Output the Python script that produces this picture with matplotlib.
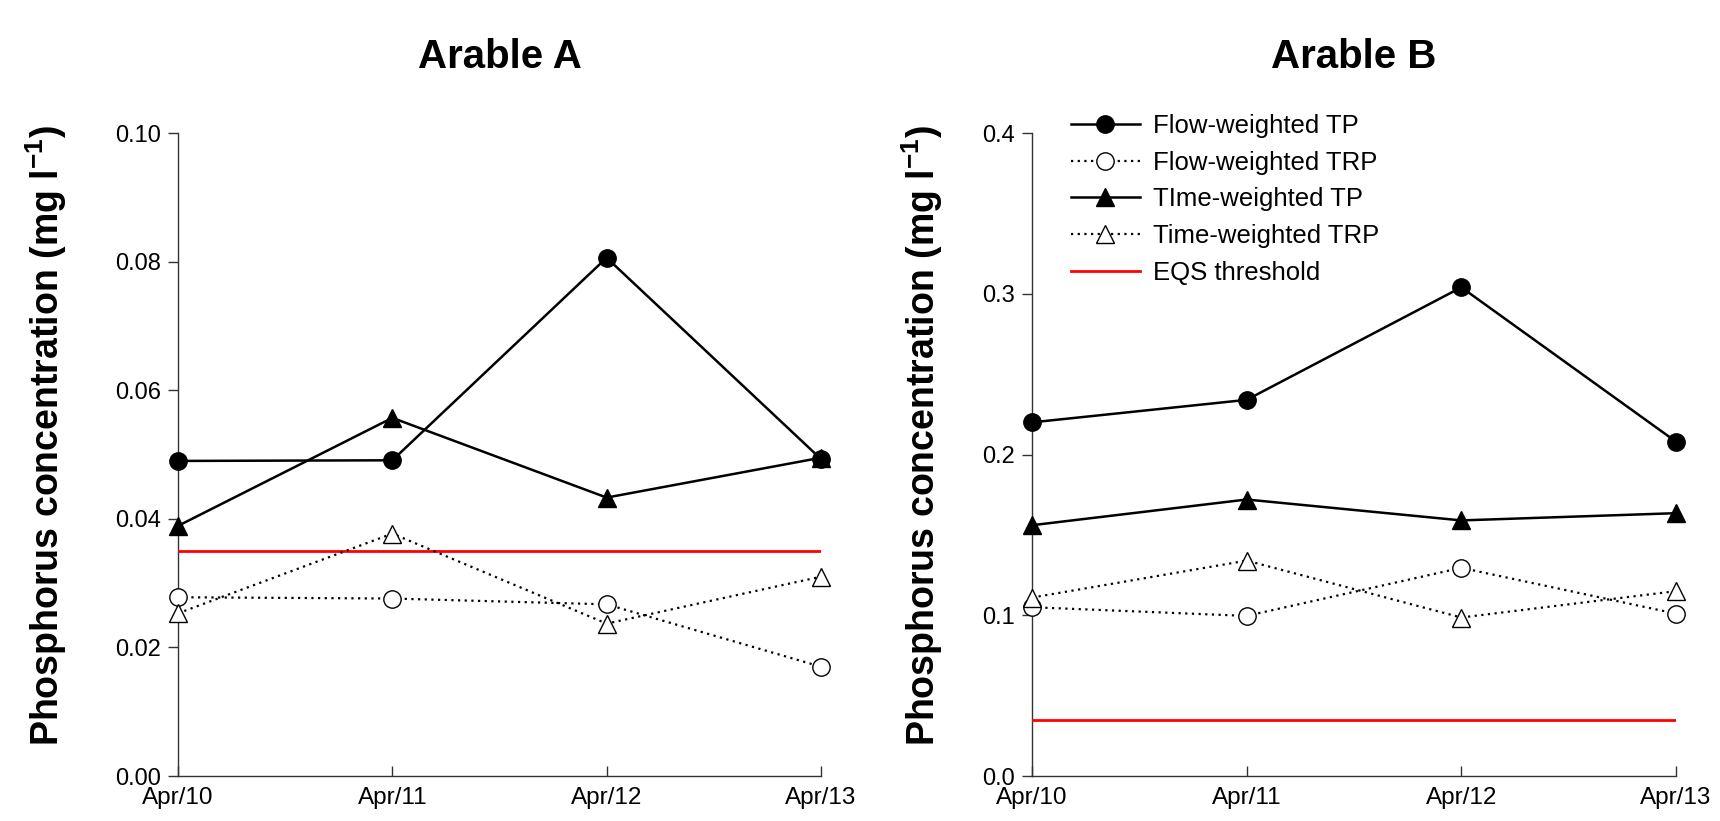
import matplotlib.pyplot as plt

plt.rcParams["font.family"] = ["Liberation Sans", "DejaVu Sans"]
plt.rcParams["mathtext.fontset"] = "custom"
plt.rcParams["mathtext.rm"] = "Liberation Sans"
plt.rcParams["mathtext.bf"] = "Liberation Sans:bold"

dates = ["Apr/10", "Apr/11", "Apr/12", "Apr/13"]
eqs = 0.035

# Arable A
a_flow_tp = [0.0490, 0.0491, 0.0806, 0.0493]
a_flow_trp = [0.0278, 0.0276, 0.0267, 0.0170]
a_time_tp = [0.0389, 0.0557, 0.0433, 0.0495]
a_time_trp = [0.0253, 0.0377, 0.0237, 0.0310]

# Arable B
b_flow_tp = [0.220, 0.234, 0.304, 0.208]
b_flow_trp = [0.105, 0.0996, 0.1295, 0.101]
b_time_tp = [0.156, 0.172, 0.159, 0.1635]
b_time_trp = [0.111, 0.134, 0.0986, 0.115]

a_yticks = [0.00, 0.02, 0.04, 0.06, 0.08, 0.10]
b_yticks = [0.0, 0.1, 0.2, 0.3, 0.4]

fig = plt.figure(figsize=(17.2, 8.21), dpi=100)
ax_a = fig.add_axes([0.1035, 0.0548, 0.3738, 0.7832])
ax_b = fig.add_axes([0.6000, 0.0548, 0.3744, 0.7832])

dot = (0, (1, 2.0))


def draw(ax, flow_tp, flow_trp, time_tp, time_trp, yticks, fmt, title):
    x = list(range(len(dates)))
    ax.plot(x, flow_tp, "-o", color="black", lw=1.8, ms=12.5,
            clip_on=False, zorder=5, label="Flow-weighted TP")
    ax.plot(x, flow_trp, linestyle=dot, marker="o", color="black", lw=1.6,
            ms=12.5, mfc="white", mec="black", mew=1.0,
            clip_on=False, zorder=4, label="Flow-weighted TRP")
    ax.plot(x, time_tp, "-^", color="black", lw=1.8, ms=12.5,
            clip_on=False, zorder=5, label="TIme-weighted TP")
    ax.plot(x, time_trp, linestyle=dot, marker="^", color="black", lw=1.6,
            ms=12.5, mfc="white", mec="black", mew=1.0,
            clip_on=False, zorder=4, label="Time-weighted TRP")
    ax.plot(x, [eqs] * len(x), color="red", lw=2.0, zorder=3,
            label="EQS threshold")

    ax.set_xlim(x[0], x[-1])
    ax.set_ylim(yticks[0], yticks[-1])
    ax.set_xticks(x)
    ax.set_xticklabels(dates)
    ax.set_yticks(yticks)
    ax.set_yticklabels([fmt.format(v) for v in yticks])
    for s in ["top", "right"]:
        ax.spines[s].set_visible(False)
    for s in ["left", "bottom"]:
        ax.spines[s].set_color("#333333")
        ax.spines[s].set_linewidth(1.0)
    ax.tick_params(axis="y", direction="out", length=7, width=1,
                   color="#333333", labelsize=17, pad=5)
    ax.tick_params(axis="x", direction="in", length=7, width=1,
                   color="#333333", labelsize=17.5, pad=8)
    ax.set_ylabel(r"Phosphorus concentration (mg l$^{\mathbf{-1}}$)",
                  fontsize=27, fontweight="bold")
    ax.text(0.5, 1.118, title, transform=ax.transAxes, ha="center",
            va="center", fontsize=29, fontweight="bold")


draw(ax_a, a_flow_tp, a_flow_trp, a_time_tp, a_time_trp, a_yticks,
     "{:.2f}", "Arable A")
draw(ax_b, b_flow_tp, b_flow_trp, b_time_tp, b_time_trp, b_yticks,
     "{:.1f}", "Arable B")

ax_a.yaxis.set_label_coords(-0.17, 0.53)
ax_b.yaxis.set_label_coords(-0.135, 0.53)

ax_b.legend(loc="upper left", bbox_to_anchor=(0.06, 1.03), frameon=False,
            fontsize=18.5, handlelength=2.7, handletextpad=0.5,
            labelspacing=0.5, borderpad=0, borderaxespad=0)

fig.savefig("out.png", dpi=100)
